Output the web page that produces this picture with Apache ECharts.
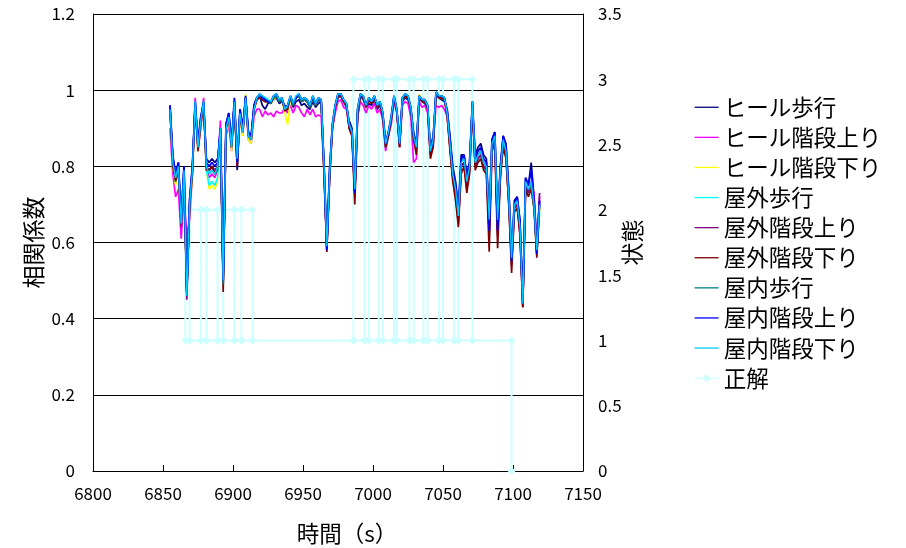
<!DOCTYPE html>
<html>
<head>
<meta charset="utf-8">
<script src="https://cdn.jsdelivr.net/npm/echarts@6/dist/echarts.min.js"></script>
<style>
  html, body { margin: 0; padding: 0; background: #fff; }
  #chart { width: 906px; height: 548px; }
</style>
</head>
<body>
<div id="chart"></div>
<script>
// Sampling times (s)
const times = [
  6855,6857,6859,6861,6863,6865,6867,6869,6871,6873,
  6875,6877,6879,6881,6883,6885,6887,6889,6891,6893,
  6895,6897,6899,6901,6903,6905,6907,6909,6911,6913,
  6915,6917,6919,6921,6923,6925,6927,6929,6931,6933,
  6935,6937,6939,6941,6943,6945,6947,6949,6951,6953,
  6955,6957,6959,6961,6963,6965,6967,6969,6971,6973,
  6975,6977,6979,6981,6983,6985,6987,6989,6991,6993,
  6995,6997,6999,7001,7003,7005,7007,7009,7011,7013,
  7015,7017,7019,7021,7023,7025,7027,7029,7031,7033,
  7035,7037,7039,7041,7043,7045,7047,7049,7051,7053,
  7055,7057,7059,7061,7063,7065,7067,7069,7071,7073,
  7075,7077,7079,7081,7083,7085,7087,7089,7091,7093,
  7095,7097,7099,7101,7103,7105,7107,7109,7111,7113,
  7115,7117,7119
];

// Correlation coefficient per template
const heelWalk = [
  0.96,0.83,0.78,0.81,0.66,0.80,0.47,0.71,0.80,0.96,
  0.86,0.93,0.96,0.82,0.81,0.82,0.81,0.82,0.89,0.51,
  0.91,0.94,0.86,0.97,0.79,0.95,0.90,0.98,0.89,0.88,
  0.96,0.98,0.985,0.96,0.95,0.965,0.97,0.975,0.98,0.965,
  0.97,0.96,0.955,0.975,0.955,0.97,0.975,0.96,0.965,0.955,
  0.95,0.97,0.955,0.965,0.97,0.81,0.60,0.79,0.90,0.95,
  0.98,0.985,0.97,0.955,0.92,0.90,0.75,0.94,0.985,0.975,
  0.955,0.965,0.96,0.975,0.95,0.96,0.93,0.87,0.88,0.92,
  0.975,0.945,0.87,0.97,0.98,0.975,0.95,0.89,0.86,0.98,
  0.97,0.965,0.95,0.85,0.88,0.985,0.98,0.975,0.97,0.95,
  0.88,0.80,0.76,0.69,0.83,0.83,0.78,0.81,0.96,0.83,
  0.85,0.86,0.83,0.82,0.68,0.87,0.89,0.68,0.80,0.88,
  0.86,0.74,0.58,0.71,0.72,0.66,0.45,0.77,0.75,0.81,
  0.72,0.60,0.71
];
const heelUp = [
  0.90,0.78,0.72,0.74,0.61,0.72,0.62,0.66,0.78,0.98,
  0.84,0.90,0.98,0.79,0.77,0.78,0.77,0.79,0.92,0.52,
  0.88,0.91,0.84,0.96,0.83,0.93,0.88,0.97,0.87,0.86,
  0.93,0.95,0.95,0.93,0.945,0.935,0.94,0.93,0.945,0.94,
  0.94,0.955,0.94,0.96,0.94,0.96,0.955,0.94,0.93,0.95,
  0.935,0.95,0.93,0.935,0.93,0.79,0.59,0.77,0.90,0.94,
  0.97,0.975,0.955,0.95,0.90,0.88,0.73,0.93,0.97,0.96,
  0.94,0.96,0.95,0.965,0.94,0.95,0.92,0.84,0.88,0.91,
  0.97,0.94,0.85,0.96,0.97,0.965,0.93,0.81,0.82,0.97,
  0.955,0.96,0.94,0.83,0.86,0.96,0.955,0.96,0.95,0.93,
  0.85,0.77,0.73,0.66,0.80,0.81,0.75,0.79,0.96,0.80,
  0.82,0.83,0.80,0.79,0.63,0.85,0.87,0.63,0.78,0.86,
  0.83,0.71,0.55,0.69,0.70,0.63,0.43,0.75,0.73,0.75,
  0.73,0.58,0.72
];
const heelDown = [
  0.94,0.80,0.75,0.78,0.66,0.77,0.47,0.69,0.77,0.97,
  0.84,0.91,0.97,0.79,0.74,0.75,0.74,0.76,0.89,0.50,
  0.89,0.92,0.84,0.96,0.81,0.93,0.88,0.99,0.87,0.86,
  0.95,0.97,0.985,0.98,0.97,0.97,0.965,0.975,0.985,0.97,
  0.975,0.94,0.91,0.98,0.96,0.98,0.985,0.97,0.975,0.97,
  0.955,0.98,0.96,0.975,0.97,0.79,0.59,0.77,0.90,0.955,
  0.985,0.985,0.97,0.96,0.90,0.88,0.74,0.94,0.985,0.98,
  0.955,0.975,0.965,0.98,0.955,0.965,0.93,0.85,0.88,0.92,
  0.98,0.945,0.85,0.975,0.985,0.98,0.95,0.87,0.84,0.99,
  0.97,0.97,0.955,0.83,0.86,0.99,0.98,0.98,0.975,0.935,
  0.85,0.77,0.73,0.66,0.80,0.81,0.75,0.79,0.97,0.80,
  0.82,0.83,0.80,0.79,0.65,0.85,0.87,0.65,0.78,0.86,
  0.83,0.71,0.55,0.69,0.70,0.63,0.43,0.75,0.73,0.74,
  0.69,0.57,0.69
];
const outdoorWalk = [
  0.95,0.81,0.76,0.79,0.65,0.78,0.46,0.70,0.79,0.97,
  0.85,0.92,0.97,0.79,0.75,0.76,0.75,0.77,0.90,0.50,
  0.90,0.93,0.85,0.97,0.83,0.94,0.89,0.98,0.88,0.87,
  0.95,0.98,0.99,0.985,0.98,0.975,0.97,0.985,0.99,0.975,
  0.98,0.95,0.96,0.985,0.965,0.985,0.99,0.975,0.98,0.975,
  0.96,0.985,0.965,0.98,0.975,0.80,0.60,0.78,0.91,0.96,
  0.99,0.99,0.975,0.965,0.91,0.89,0.75,0.95,0.99,0.985,
  0.96,0.98,0.97,0.985,0.96,0.97,0.94,0.85,0.88,0.92,
  0.985,0.95,0.86,0.98,0.99,0.985,0.955,0.87,0.85,0.985,
  0.975,0.975,0.96,0.84,0.87,0.995,0.985,0.985,0.98,0.94,
  0.86,0.77,0.73,0.67,0.80,0.81,0.75,0.80,0.97,0.80,
  0.82,0.83,0.80,0.78,0.66,0.86,0.88,0.66,0.78,0.86,
  0.83,0.71,0.56,0.70,0.70,0.64,0.44,0.76,0.73,0.74,
  0.69,0.58,0.68
];
const outdoorUp = [
  0.95,0.82,0.77,0.80,0.64,0.78,0.45,0.70,0.79,0.96,
  0.85,0.92,0.96,0.80,0.79,0.80,0.79,0.80,0.90,0.49,
  0.90,0.93,0.85,0.97,0.80,0.94,0.89,0.98,0.88,0.87,
  0.95,0.975,0.98,0.975,0.97,0.97,0.965,0.98,0.985,0.97,
  0.975,0.95,0.955,0.98,0.96,0.98,0.985,0.97,0.975,0.97,
  0.955,0.98,0.96,0.975,0.97,0.79,0.58,0.77,0.90,0.955,
  0.985,0.985,0.97,0.96,0.90,0.88,0.72,0.94,0.985,0.98,
  0.955,0.975,0.965,0.98,0.955,0.965,0.93,0.85,0.88,0.92,
  0.98,0.945,0.85,0.975,0.985,0.98,0.95,0.87,0.84,0.98,
  0.97,0.97,0.955,0.83,0.86,0.99,0.98,0.98,0.975,0.935,
  0.85,0.77,0.72,0.65,0.80,0.81,0.74,0.79,0.96,0.80,
  0.82,0.83,0.80,0.79,0.62,0.85,0.87,0.62,0.78,0.86,
  0.83,0.70,0.54,0.69,0.70,0.62,0.43,0.75,0.73,0.76,
  0.71,0.57,0.73
];
const outdoorDown = [
  0.95,0.80,0.76,0.79,0.66,0.77,0.47,0.69,0.78,0.96,
  0.84,0.91,0.96,0.79,0.79,0.80,0.78,0.80,0.89,0.47,
  0.90,0.93,0.85,0.97,0.80,0.94,0.89,0.98,0.88,0.87,
  0.95,0.975,0.985,0.975,0.97,0.97,0.965,0.98,0.985,0.97,
  0.975,0.945,0.95,0.98,0.96,0.98,0.985,0.97,0.975,0.97,
  0.955,0.98,0.96,0.975,0.97,0.78,0.575,0.77,0.90,0.955,
  0.985,0.985,0.97,0.96,0.90,0.88,0.70,0.93,0.985,0.98,
  0.955,0.975,0.965,0.98,0.955,0.965,0.93,0.85,0.88,0.92,
  0.98,0.945,0.85,0.975,0.985,0.98,0.95,0.87,0.83,0.98,
  0.97,0.97,0.955,0.82,0.85,0.99,0.98,0.98,0.975,0.93,
  0.84,0.76,0.71,0.64,0.78,0.80,0.73,0.78,0.96,0.79,
  0.81,0.82,0.79,0.78,0.576,0.84,0.86,0.585,0.77,0.85,
  0.82,0.70,0.52,0.68,0.69,0.62,0.43,0.74,0.72,0.74,
  0.69,0.56,0.70
];
const indoorWalk = [
  0.95,0.81,0.77,0.80,0.65,0.79,0.46,0.70,0.79,0.97,
  0.85,0.92,0.97,0.80,0.78,0.79,0.78,0.79,0.90,0.49,
  0.90,0.93,0.85,0.97,0.81,0.94,0.89,0.98,0.88,0.87,
  0.95,0.98,0.985,0.98,0.975,0.97,0.965,0.98,0.985,0.97,
  0.975,0.95,0.955,0.98,0.96,0.98,0.985,0.97,0.975,0.97,
  0.955,0.98,0.96,0.975,0.97,0.80,0.59,0.78,0.91,0.96,
  0.99,0.99,0.975,0.965,0.91,0.89,0.74,0.95,0.99,0.985,
  0.96,0.98,0.97,0.985,0.96,0.97,0.94,0.86,0.89,0.93,
  0.985,0.95,0.86,0.98,0.99,0.985,0.955,0.88,0.85,0.985,
  0.975,0.975,0.96,0.84,0.87,0.995,0.985,0.985,0.98,0.94,
  0.86,0.78,0.74,0.67,0.81,0.83,0.77,0.80,0.97,0.81,
  0.83,0.84,0.81,0.80,0.65,0.86,0.88,0.65,0.79,0.87,
  0.84,0.72,0.55,0.70,0.71,0.64,0.44,0.76,0.74,0.75,
  0.70,0.57,0.70
];
const indoorUp = [
  0.96,0.82,0.78,0.81,0.66,0.80,0.47,0.71,0.80,0.97,
  0.86,0.93,0.97,0.81,0.80,0.81,0.80,0.81,0.90,0.50,
  0.91,0.94,0.86,0.98,0.81,0.95,0.90,0.985,0.89,0.88,
  0.96,0.98,0.99,0.98,0.975,0.97,0.97,0.985,0.99,0.975,
  0.98,0.955,0.96,0.985,0.965,0.98,0.99,0.975,0.98,0.975,
  0.96,0.985,0.965,0.98,0.975,0.80,0.58,0.79,0.91,0.96,
  0.99,0.99,0.975,0.965,0.91,0.89,0.73,0.95,0.99,0.985,
  0.96,0.98,0.97,0.985,0.96,0.97,0.94,0.86,0.89,0.93,
  0.985,0.95,0.86,0.98,0.99,0.985,0.955,0.88,0.85,0.985,
  0.975,0.975,0.96,0.84,0.87,0.995,0.985,0.985,0.98,0.945,
  0.87,0.79,0.75,0.68,0.82,0.83,0.77,0.81,0.97,0.82,
  0.84,0.85,0.82,0.81,0.63,0.87,0.89,0.63,0.80,0.88,
  0.85,0.73,0.55,0.70,0.72,0.65,0.44,0.77,0.75,0.79,
  0.71,0.57,0.71
];
const indoorDown = [
  0.95,0.81,0.77,0.80,0.65,0.79,0.46,0.70,0.79,0.97,
  0.85,0.92,0.97,0.80,0.78,0.79,0.78,0.80,0.90,0.50,
  0.90,0.93,0.85,0.97,0.82,0.94,0.89,0.98,0.88,0.87,
  0.95,0.98,0.99,0.985,0.98,0.975,0.97,0.985,0.99,0.975,
  0.98,0.95,0.96,0.985,0.965,0.985,0.99,0.975,0.98,0.975,
  0.96,0.985,0.965,0.98,0.975,0.80,0.59,0.78,0.91,0.96,
  0.99,0.99,0.975,0.965,0.91,0.89,0.74,0.95,0.99,0.985,
  0.96,0.98,0.97,0.985,0.96,0.97,0.94,0.86,0.89,0.93,
  0.985,0.95,0.86,0.98,0.99,0.985,0.955,0.88,0.85,0.985,
  0.975,0.975,0.96,0.84,0.87,0.995,0.985,0.985,0.98,0.94,
  0.86,0.78,0.74,0.67,0.81,0.82,0.76,0.80,0.97,0.81,
  0.83,0.84,0.81,0.80,0.66,0.86,0.88,0.66,0.79,0.87,
  0.84,0.72,0.56,0.70,0.71,0.64,0.44,0.76,0.74,0.76,
  0.70,0.58,0.70
];

const seriesNames = [
  'ヒール歩行','ヒール階段上り','ヒール階段下り',
  '屋外歩行','屋外階段上り','屋外階段下り',
  '屋内歩行','屋内階段上り','屋内階段下り'
];
const seriesValues = [
  heelWalk, heelUp, heelDown,
  outdoorWalk, outdoorUp, outdoorDown,
  indoorWalk, indoorUp, indoorDown
];
const seriesColors = [
  '#000080','#FF00FF','#FFFF00',
  '#00FFFF','#800080','#800000',
  '#008080','#0000FF','#00CCFF'
];
const seriesWidths = [1.7, 1.7, 1.7, 1.7, 1.7, 1.7, 1.7, 1.8, 1.3];

// Ground-truth state (正解): change points, drawn as vertical steps;
// a null entry separates the two passes of the path.
const stateName = '正解';
const stateTimes = [
  6866,6866,6869,6869,6877,6877,6881,6881,6889,6889,6893,6893,6901,6901,6906,6906,6914,6914,
  6986,6986,6994,6994,6997,6997,7004,7004,7007,7007,7015,7015,7017,7017,
  7026,7026,7029,7029,7036,7036,7039,7039,7047,7047,7050,7050,7058,7058,7061,7061,
  7071,7071,7099,7099,
  7099,
  6866,6869,6869,6877,6877,6881,6881,6889,6889,6893,6893,6901,6901,6906,6906,6914,
  6986,6994,6994,6997,6997,7004,7004,7007,7007,7015,7015,7017,7017,7026,7026,
  7029,7029,7036,7036,7039,7039,7047,7047,7050,7050,7058,7058,7061,7061,7071
];
const stateValues = [
  2,1,1,2,2,1,1,2,2,1,1,2,2,1,1,2,2,1,
  1,3,3,1,1,3,3,1,1,3,3,1,1,3,
  3,1,1,3,3,1,1,3,3,1,1,3,3,1,1,3,
  3,1,1,0,
  null,
  2,2,1,1,2,2,1,1,2,2,1,1,2,2,1,1,
  1,1,3,3,1,1,3,3,1,1,3,3,1,1,3,
  3,1,1,3,3,1,1,3,3,1,1,3,3,1,1
];

const FONT = '"Noto Sans CJK JP", "Noto Sans", sans-serif';

const chart = echarts.init(document.getElementById('chart'), null, { renderer: 'canvas' });

const lineSeries = seriesNames.map((name, k) => ({
  name: name,
  type: 'line',
  yAxisIndex: 0,
  symbol: 'none',
  z: 3,
  color: seriesColors[k],
  lineStyle: { color: seriesColors[k], width: seriesWidths[k] },
  data: times.map((t, i) => [t, seriesValues[k][i]])
}));

const stateSeries = {
  name: stateName,
  type: 'line',
  yAxisIndex: 1,
  z: 2,
  symbol: 'diamond',
  symbolSize: 8,
  showAllSymbol: true,
  connectNulls: false,
  color: '#CCFFFF',
  itemStyle: { color: '#CCFFFF' },
  lineStyle: { color: '#CCFFFF', width: 2 },
  data: stateTimes.map((t, i) => [t, stateValues[i] === null ? '-' : stateValues[i]])
};

// Legend: plain line keys for the templates, line + diamond for the state
const legendItems = seriesNames.map(n => ({
  name: n,
  itemStyle: { color: 'rgba(0,0,0,0)', borderWidth: 0, opacity: 0 }
})).concat([{ name: stateName }]);

chart.setOption({
  animation: false,
  backgroundColor: '#fff',
  textStyle: { fontFamily: FONT },
  grid: { left: 93, right: 323, top: 14, bottom: 77, outerBoundsMode: 'none', containLabel: false },
  legend: {
    orient: 'vertical',
    left: 689,
    top: 91,
    itemWidth: 24,
    itemHeight: 10,
    itemGap: 7.6,
    lineStyle: { width: 1.3 },
    textStyle: { fontSize: 22.5, color: '#000', fontFamily: FONT, lineHeight: 22 },
    data: legendItems
  },
  xAxis: {
    type: 'value',
    min: 6800,
    max: 7150,
    interval: 50,
    name: '時間（s）',
    nameLocation: 'middle',
    nameGap: 51,
    nameMoveOverlap: false,
    nameTextStyle: { fontSize: 22.5, color: '#000', fontFamily: FONT, padding: [0, 0, 0, 18] },
    axisLine: { show: true, onZero: false, lineStyle: { color: '#000', width: 1 } },
    axisTick: { show: true, inside: true, length: 6, lineStyle: { color: '#000' } },
    axisLabel: { fontSize: 17, color: '#000', margin: 14, fontFamily: FONT, formatter: v => String(v) },
    splitLine: { show: false }
  },
  yAxis: [
    {
      type: 'value',
      position: 'left',
      min: 0,
      max: 1.2,
      interval: 0.2,
      name: '相関係数',
      nameLocation: 'middle',
      nameGap: 48,
      nameMoveOverlap: false,
      nameTextStyle: { fontSize: 23, color: '#000', fontFamily: FONT },
      axisLine: { show: true, lineStyle: { color: '#000', width: 1 } },
      axisTick: { show: false },
      axisLabel: { fontSize: 17, color: '#000', margin: 18, fontFamily: FONT },
      splitLine: { show: true, lineStyle: { color: '#000', width: 1 } }
    },
    {
      type: 'value',
      position: 'right',
      min: 0,
      max: 3.5,
      interval: 0.5,
      name: '状態',
      nameLocation: 'middle',
      nameGap: 38,
      nameMoveOverlap: false,
      nameTextStyle: { fontSize: 23, color: '#000', fontFamily: FONT },
      axisLine: { show: true, lineStyle: { color: '#000', width: 1 } },
      axisTick: { show: false },
      axisLabel: { fontSize: 17, color: '#000', margin: 15, fontFamily: FONT },
      splitLine: { show: false }
    }
  ],
  series: [stateSeries].concat(lineSeries)
});
</script>
</body>
</html>
